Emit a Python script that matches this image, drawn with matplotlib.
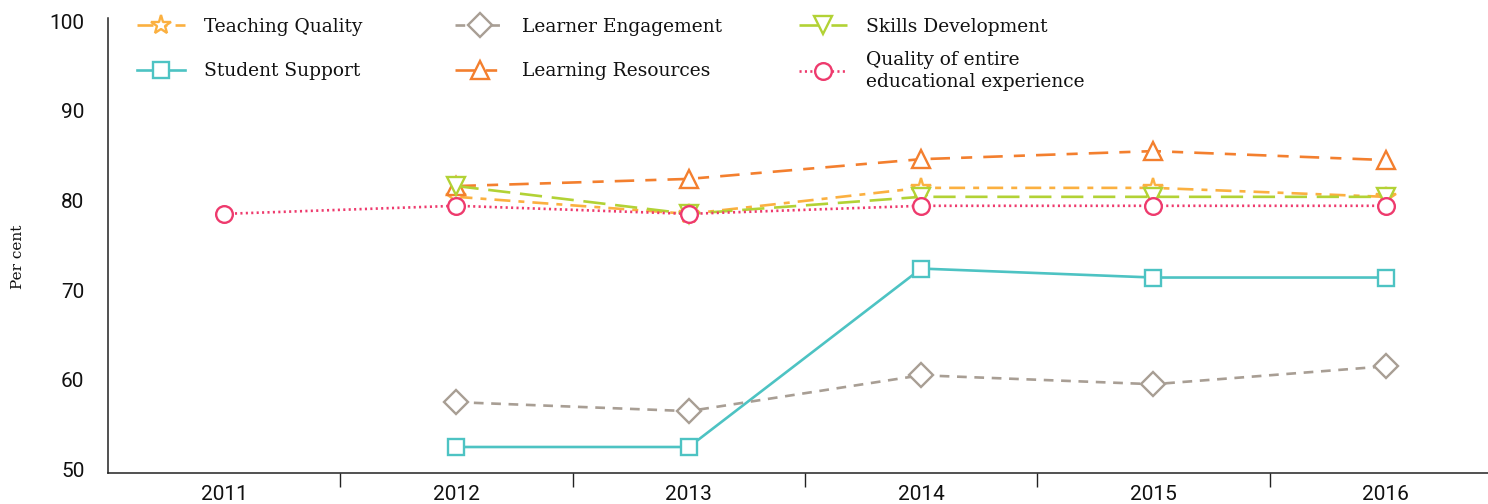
import matplotlib
matplotlib.use("Agg")
import matplotlib.pyplot as plt

plt.rcParams['lines.scale_dashes'] = False

years = ["2011", "2012", "2013", "2014", "2015", "2016"]
teaching_quality = [None, 80.4, 78.5, 81.4, 81.4, 80.4]
learner_engagement = [None, 57.5, 56.5, 60.5, 59.5, 61.5]
skills_development = [None, 81.6, 78.5, 80.4, 80.4, 80.4]
student_support = [None, 52.5, 52.5, 72.4, 71.4, 71.4]
learning_resources = [None, 81.6, 82.4, 84.6, 85.5, 84.5]
entire_experience = [78.5, 79.4, 78.5, 79.4, 79.4, 79.4]

series = [
    ("Teaching Quality", teaching_quality, "#FBB040", "*", (0, (11.5, 5.8, 4.3, 5.8)), 15),
    ("Student Support", student_support, "#4DC3C3", "s", "-", 11.5),
    ("Learner Engagement", learner_engagement, "#A89E94", "D", (0, (7, 5.5)), 12),
    ("Learning Resources", learning_resources, "#F37F2E", "^", (0, (14, 8, 8, 8)), 12.5),
    ("Skills Development", skills_development, "#B2D235", "v", (0, (16, 7)), 12.5),
    ("Quality of entire\neducational experience", entire_experience, "#EE3A6D", "o", (0, (1.5, 2.4)), 12),
]

W, H = 1488, 504
fig = plt.figure(figsize=(W / 100, H / 100), dpi=100)
ax_left, ax_bottom_px, ax_w, ax_h = 108, 473, 1394, 454.6
ax = fig.add_axes([ax_left / W, (H - ax_bottom_px) / H, ax_w / W, ax_h / H])

x = list(range(len(years)))
handles = []
for name, vals, color, mk, ls, ms in series:
    xs = [xi for xi, v in zip(x, vals) if v is not None]
    ys = [v for v in vals if v is not None]
    h, = ax.plot(xs, ys, color=color, linestyle=ls, linewidth=1.9,
                 marker=mk, markersize=ms, markerfacecolor="white",
                 markeredgecolor=color, markeredgewidth=1.7, label=name,
                 dash_capstyle="butt")
    handles.append(h)

ax.set_xlim(-0.5, 5.5)
ax.set_ylim(49.6, 100.3)
ax.set_yticks([50, 60, 70, 80, 90, 100])
ax.set_xticks(x)
ax.set_xticklabels(years)
ax.set_xticks([i + 0.5 for i in range(5)], minor=True)
ax.tick_params(axis="x", which="major", length=0, pad=8.5)
ax.tick_params(axis="x", which="minor", length=10, width=1, color="#222222", direction="out")
ax.tick_params(axis="y", length=0, pad=17)

for lab in ax.get_xticklabels() + ax.get_yticklabels():
    lab.set_family(["Roboto", "DejaVu Sans"])
    lab.set_fontsize(15)
    lab.set_color("#111111")

for s in ["top", "right"]:
    ax.spines[s].set_visible(False)
for s in ["left", "bottom"]:
    ax.spines[s].set_color("#222222")
    ax.spines[s].set_linewidth(1.1)

ax.set_ylabel("Per cent", family=["DejaVu Serif"], fontsize=11, color="#111111")
ax.yaxis.set_label_coords((25 - ax_left) / ax_w, 1 - (257 - (ax_bottom_px - ax_h)) / ax_h)

def px_to_ax(px, py):
    top = ax_bottom_px - ax_h
    return (px - ax_left) / ax_w, 1 - (py - top) / ax_h

fs = 13.4
common = dict(loc="upper left", frameon=False, handlelength=2.6, handletextpad=1.0,
              borderpad=0, borderaxespad=0, prop={"family": "DejaVu Serif", "size": fs})

leg1 = ax.legend(handles=handles[:4], ncol=2, bbox_to_anchor=px_to_ax(137, 17.7),
                 columnspacing=5.0, labelspacing=1.42, **common)
for t in leg1.get_texts():
    t.set_color("#111111")
ax.add_artist(leg1)

leg2 = ax.legend(handles=handles[4:], ncol=1, bbox_to_anchor=px_to_ax(799, 17.7),
                 labelspacing=0.8, **common)
for t in leg2.get_texts():
    t.set_color("#111111")
    t.set_linespacing(1.3)

fig.savefig("out.png", dpi=100)
